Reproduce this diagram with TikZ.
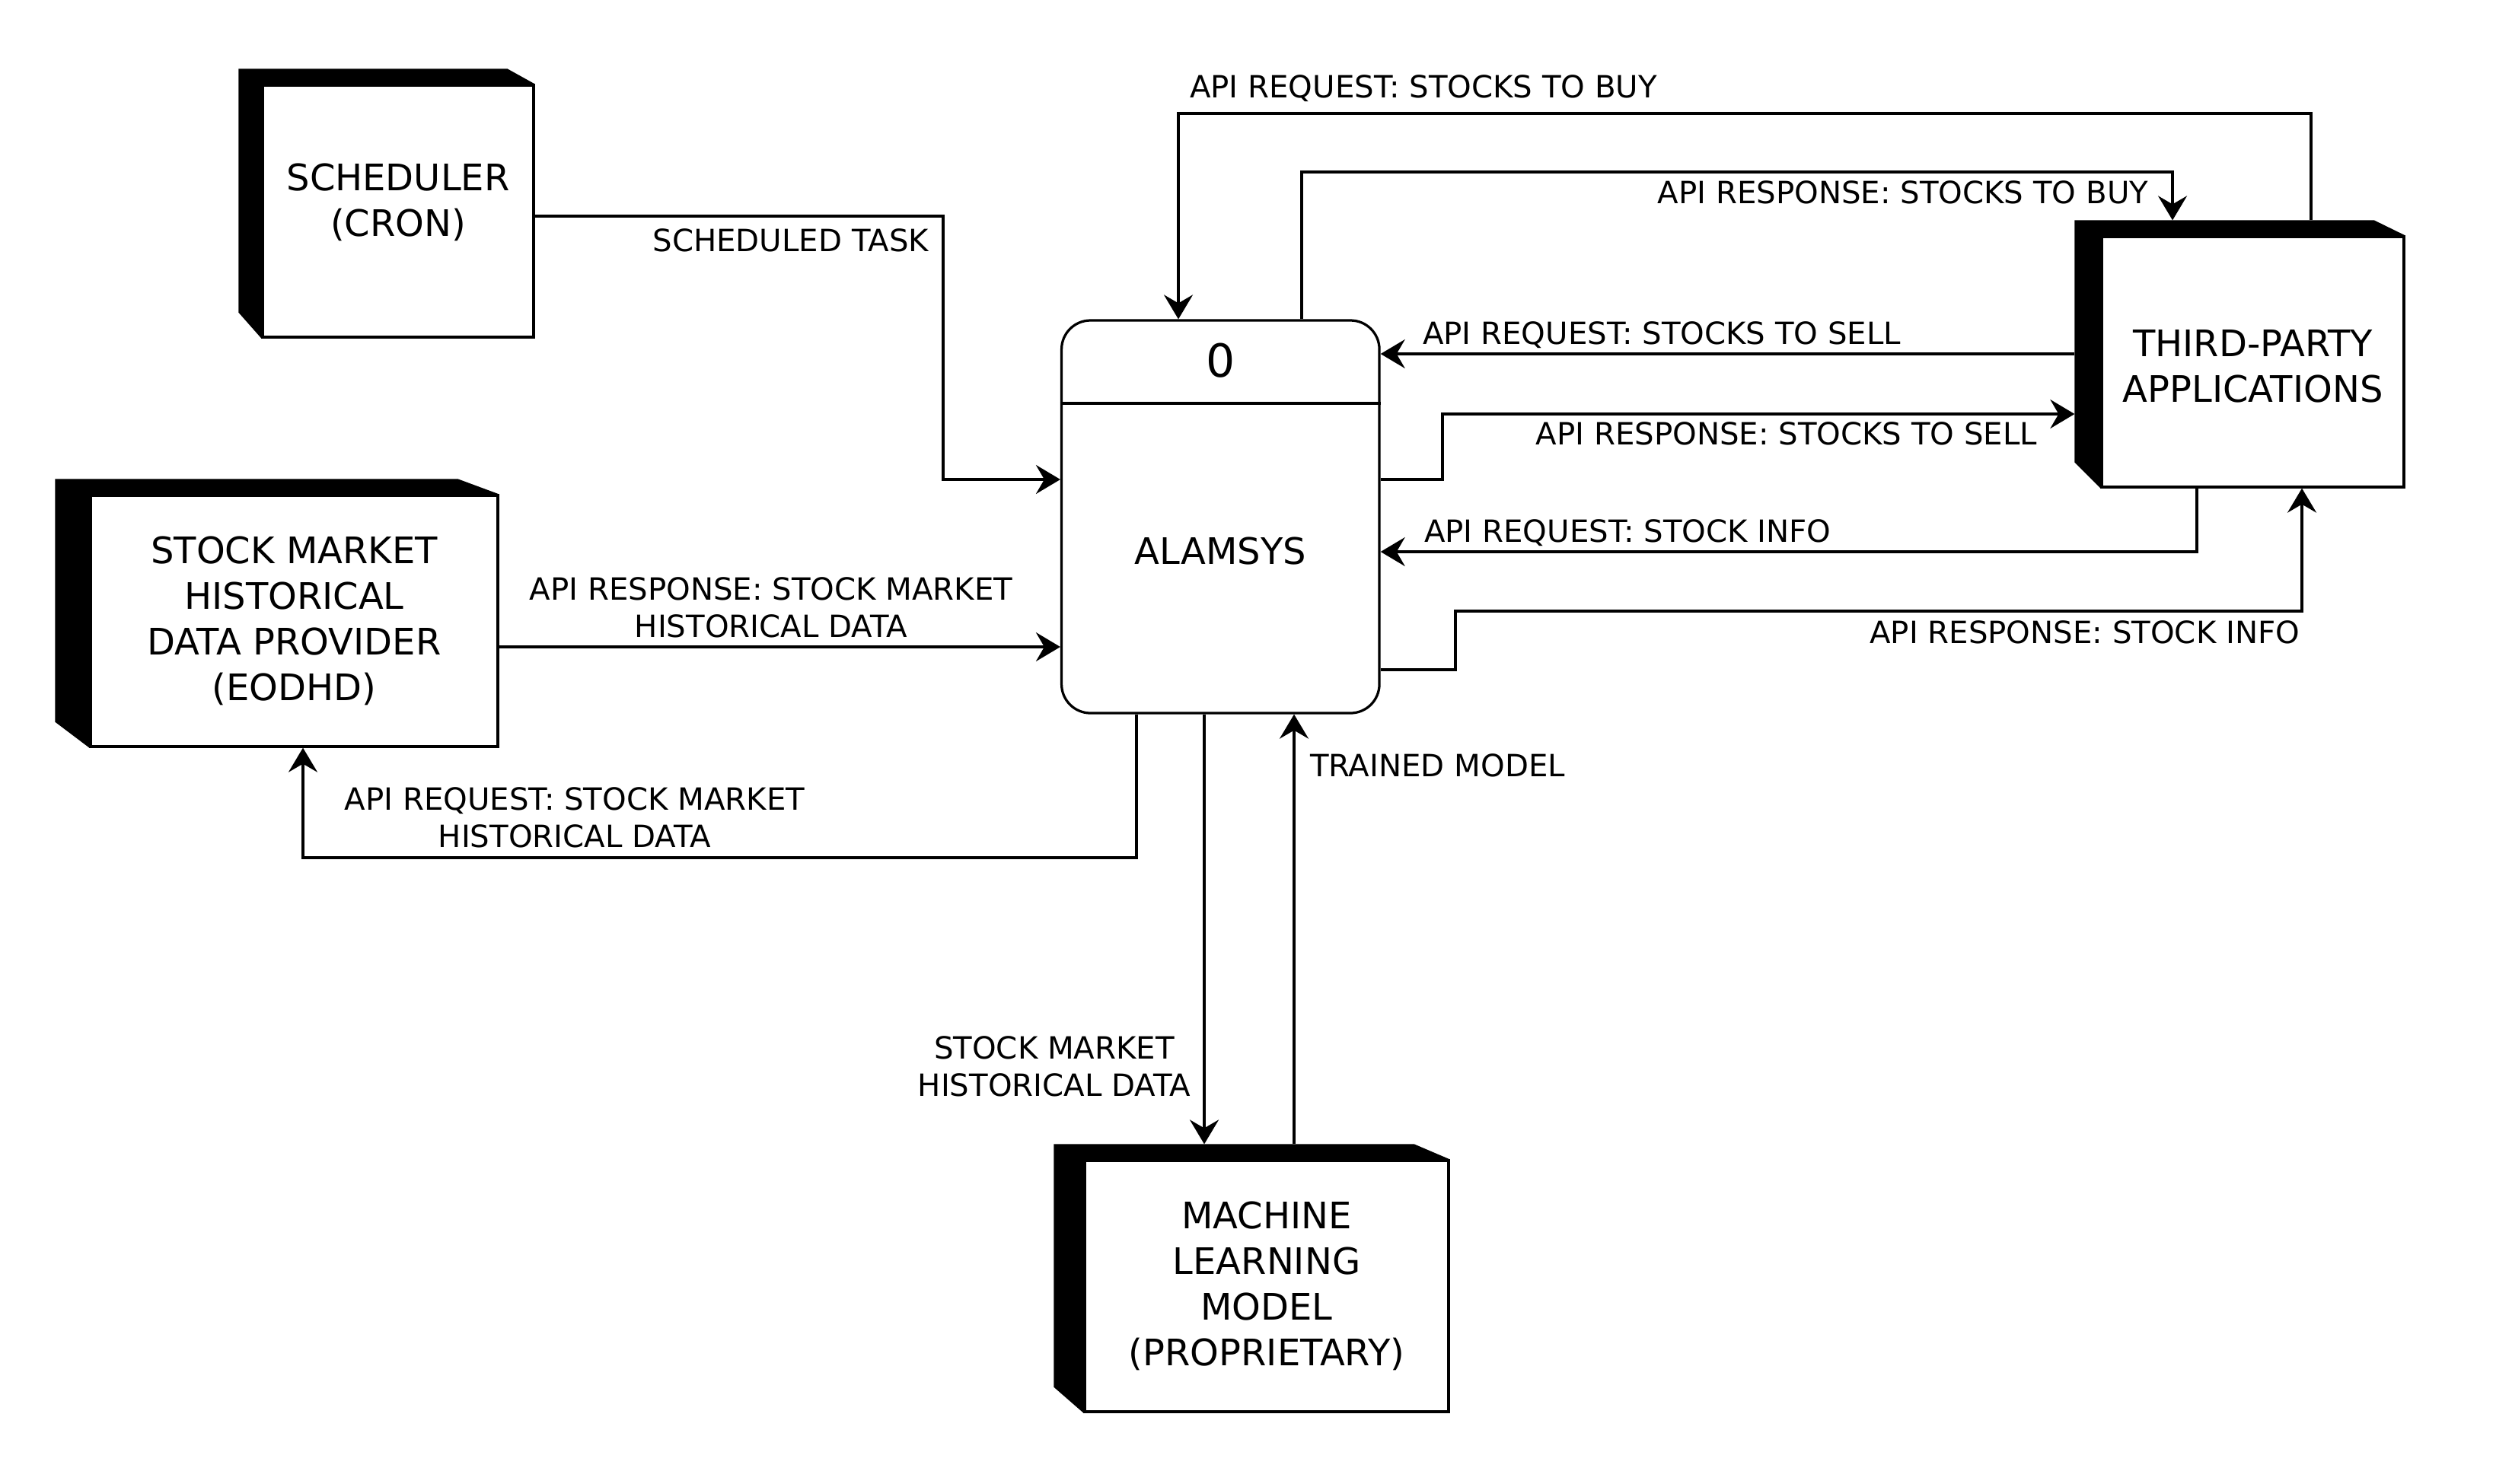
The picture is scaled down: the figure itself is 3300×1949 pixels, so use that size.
\documentclass[tikz,border=0pt]{standalone}
\usepackage{fontspec}
\setmainfont{DejaVu Sans}
\usetikzlibrary{arrows.meta}
% dark top and left faces of an external entity
\newcommand{\entshade}[2]{%
  \fill ([shift={(-#2,-20)}]#1.north west) -- ([shift={(-1.2*#2,-20)}]#1.north east) -- (#1.north east) -- (#1.north west) -- (#1.south west) -- ([shift={(-#2,-34)}]#1.south west) -- cycle;}

\begin{document}
\begin{tikzpicture}[x=0.2pt,y=-0.2pt,
  ent/.style={draw, fill=white, line width=0.65pt, inner sep=0pt, align=center, font=\fontsize{9.6}{12}\selectfont},
  proc/.style={draw, fill=white, line width=0.65pt, rounded corners=7.6pt, inner sep=0pt},
  flow/.style={line width=0.65pt, -{Stealth[length=6.4pt,width=7.6pt,inset=2.2pt]}},
  lbl/.style={inner sep=0pt, align=center, font=\fontsize{8.05}{9.8}\selectfont}]
\useasboundingbox (0,0) rectangle (3300,1949);

%External entities
\node[ent, minimum width=71.2pt, minimum height=66.2pt, text depth=6pt] (sched) at (523,277.5) {SCHEDULER\\(CRON)};
\node[ent, minimum width=107pt, minimum height=66pt] (prov) at (386.5,816) {STOCK MARKET\\HISTORICAL\\DATA PROVIDER\\(EODHD)};
\node[ent, minimum width=79.4pt, minimum height=65.8pt, text height=21.4pt] (third) at (2959.5,475.5) {THIRD-PARTY\\APPLICATIONS};
\node[ent, minimum width=95.6pt, minimum height=66pt] (ml) at (1664,1690) {MACHINE\\LEARNING\\MODEL\\(PROPRIETARY)};
\entshade{sched}{30}
\entshade{prov}{45}
\entshade{third}{34}
\entshade{ml}{39}

%Process
\node[proc, minimum width=83.5pt, minimum height=103.2pt] (alam) at (1603.3,679) {};
\coordinate (alamsep) at (1603.3,530);
\draw[line width=0.65pt] (alam.west |- alamsep) -- (alam.east |- alamsep);
\node[inner sep=0pt, font=\fontsize{12}{14}\selectfont] (alamno) at (1603.3,474) {0};
\node[inner sep=0pt, font=\fontsize{9.6}{12}\selectfont] (alamname) at (1603.3,724) {ALAMSYS};

%Bend points
\coordinate (taskA) at (1239,284);
\coordinate (taskB) at (1239,630);
\coordinate (histIn) at (1000,850);
\coordinate (reqA) at (1493,1127);
\coordinate (reqB) at (398,1127);
\coordinate (buyA) at (3036,149);
\coordinate (buyB) at (1548,149);
\coordinate (rbuyA) at (1710,226);
\coordinate (rbuyB) at (2854,226);
\coordinate (sellQ) at (2300,465);
\coordinate (sellA) at (1895,630);
\coordinate (sellB) at (1895,544);
\coordinate (infoA) at (2886,725);
\coordinate (infoB) at (1912,880);
\coordinate (infoC) at (1912,803);
\coordinate (infoD) at (3024,803);
\coordinate (mlIn) at (1582,1200);
\coordinate (mlOut) at (1700,1200);

%Data flows
\draw[flow] (sched.east |- taskA) -- (taskA) -- (taskB) -- (alam.west |- taskB);
\draw[flow] (prov.east |- histIn) -- (alam.west |- histIn);
\draw[flow] (alam.south -| reqA) -- (reqA) -- (reqB) -- (prov.south -| reqB);
\draw[flow] ([yshift=4pt]third.north -| buyA) -- (buyA) -- (buyB) -- (alam.north -| buyB);
\draw[flow] (alam.north -| rbuyA) -- (rbuyA) -- (rbuyB) -- ([yshift=4pt]third.north -| rbuyB);
\draw[flow] ([xshift=-6.8pt]third.west |- sellQ) -- (alam.east |- sellQ);
\draw[flow] (alam.east |- sellA) -- (sellA) -- (sellB) -- ([xshift=-6.8pt]third.west |- sellB);
\draw[flow] (third.south -| infoA) -- (infoA) -- (alam.east |- infoA);
\draw[flow] (alam.east |- infoB) -- (infoB) -- (infoC) -- (infoD) -- (third.south -| infoD);
\draw[flow] (alam.south -| mlIn) -- ([yshift=4pt]ml.north -| mlIn);
\draw[flow] ([yshift=4pt]ml.north -| mlOut) -- (alam.south -| mlOut);

%Flow labels
\node[lbl, anchor=base east] (lTask) at (1221,330) {SCHEDULED TASK};
\node[lbl, anchor=north] (lHistRes) at (1013,758) {API RESPONSE: STOCK MARKET\\HISTORICAL DATA};
\node[lbl, anchor=north] (lHistReq) at (755,1034) {API REQUEST: STOCK MARKET\\HISTORICAL DATA};
\node[lbl, anchor=base west] (lBuyReq) at (1562,128) {API REQUEST: STOCKS TO BUY};
\node[lbl, anchor=base east] (lBuyRes) at (2823,267) {API RESPONSE: STOCKS TO BUY};
\node[lbl, anchor=base west] (lSellReq) at (1868,452) {API REQUEST: STOCKS TO SELL};
\node[lbl, anchor=base east] (lSellRes) at (2677,584) {API RESPONSE: STOCKS TO SELL};
\node[lbl, anchor=base west] (lInfoReq) at (1870,712) {API REQUEST: STOCK INFO};
\node[lbl, anchor=base east] (lInfoRes) at (3022,845) {API RESPONSE: STOCK INFO};
\node[lbl, anchor=base west] (lTrained) at (1720,1020) {TRAINED MODEL};
\node[lbl, anchor=north] (lTrain) at (1385,1361) {STOCK MARKET\\HISTORICAL DATA};

\end{tikzpicture}
\end{document}
